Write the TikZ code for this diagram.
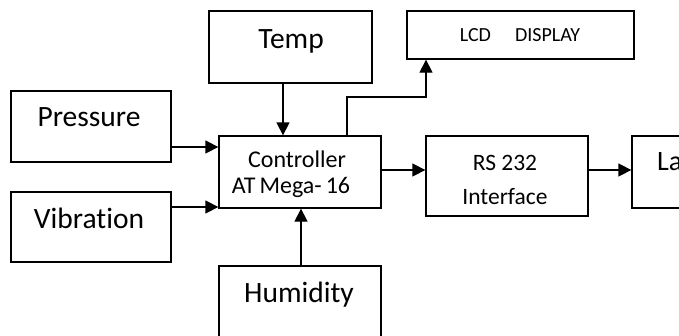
\documentclass[tikz,border=0pt]{standalone}
\usepackage{fontspec}
\setmainfont[Ligatures=NoCommon]{Carlito}
\usetikzlibrary{arrows.meta,calc}
\tikzset{
  blk/.style={draw=black, line width=1.3pt, rectangle, inner sep=0pt},
  arr/.style={line width=1.3pt, -{Triangle[length=13pt,width=13pt]}},
  txt/.style={anchor=base, inner sep=0pt},
}
\begin{document}
\begin{tikzpicture}[x=1pt,y=-1pt]
\clip (0,0) rectangle (679,335);
\fill[white] (0,0) rectangle (679,335);
% boxes
\node[blk, minimum width=163pt, minimum height=72pt] (temp) at (290.5,47) {};
\node[blk, minimum width=160pt, minimum height=71pt] (pres) at (91,126.5) {};
\node[blk, minimum width=160pt, minimum height=70pt] (vib) at (91,227) {};
\node[blk, minimum width=162pt, minimum height=72pt] (ctrl) at (300,172) {};
\node[blk, minimum width=162pt, minimum height=72pt] (hum) at (300,302) {};
\node[blk, minimum width=227pt, minimum height=48pt] (lcd) at (520.5,35) {};
\node[blk, minimum width=162pt, minimum height=80pt] (rs) at (507,176) {};
\node[blk, minimum width=162pt, minimum height=72pt] (la) at (713,172) {};
% texts
\node[txt, font=\fontsize{29.5}{29.5}\selectfont] (ttemp) at (291,48) {Temp};
\node[txt, font=\fontsize{29.5}{29.5}\selectfont] (tpres) at (89,126) {Pressure};
\node[txt, font=\fontsize{29.5}{29.5}\selectfont] (tvib) at (89,228) {Vibration};
\node[txt, font=\fontsize{24}{24}\selectfont] (tctrl1) at (297,167) {Controller};
\node[txt, font=\fontsize{24}{24}\selectfont] (tctrl2) at (291,193) {AT\,Mega-\,16};
\node[txt, font=\fontsize{29.5}{29.5}\selectfont] (thum) at (299,302) {Humidity};
\node[txt, font=\fontsize{20}{20}\selectfont] (tlcd) at (520,41) {LCD\hspace{1.2em}DISPLAY};
\node[txt, font=\fontsize{23.5}{23.5}\selectfont] (trs1) at (505,170) {RS 232};
\node[txt, font=\fontsize{23.5}{23.5}\selectfont] (trs2) at (505,204) {Interface};
\node[txt, anchor=base west, font=\fontsize{28}{28}\selectfont] (tla) at (657,170) {La};
% connectors
\draw[arr] (temp.south -| 283,0) -- (ctrl.north -| 283,0);
\draw[arr] (pres.east |- 0,147) -- (ctrl.west |- 0,147);
\draw[arr] (vib.east |- 0,207) -- (ctrl.west |- 0,207);
\draw[arr] (hum.north -| 301,0) -- (ctrl.south -| 301,0);
\coordinate (bend) at (426,97);
\draw[arr] (ctrl.north -| 347,0) |- (bend) -- (lcd.south -| bend);
\draw[arr] (ctrl.east |- 0,170) -- (rs.west |- 0,170);
\draw[arr] (rs.east |- 0,170) -- (la.west |- 0,170);
\end{tikzpicture}
\end{document}
